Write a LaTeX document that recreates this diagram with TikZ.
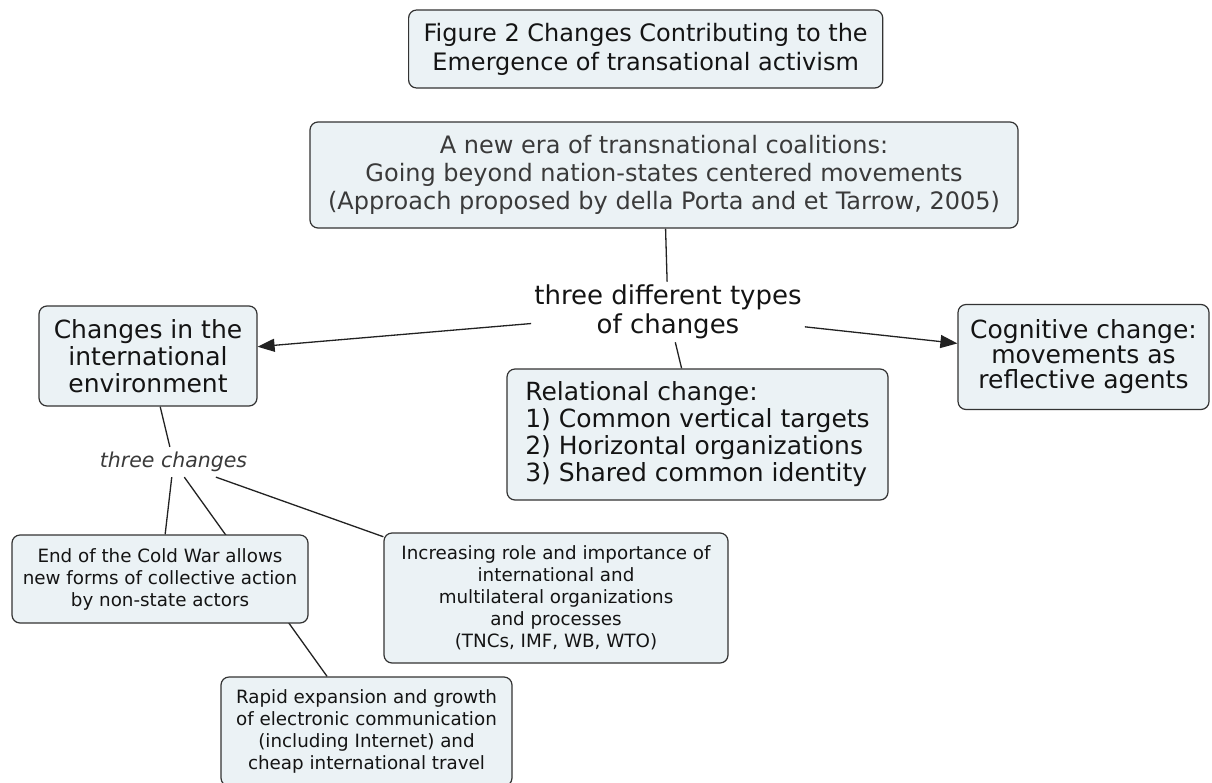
\documentclass[tikz,border=0pt]{standalone}
\usepackage{fontspec}
\setmainfont{DejaVu Sans}
\usetikzlibrary{arrows.meta,backgrounds}
\definecolor{boxfill}{HTML}{EBF2F5}
\definecolor{boxline}{HTML}{333333}
\definecolor{connline}{HTML}{222222}
\definecolor{txtdark}{HTML}{141414}
\definecolor{txtmid}{HTML}{3A3A3A}
\begin{document}
\begin{tikzpicture}[x=1pt,y=-1pt,
  conceptbox/.style={draw=boxline, fill=boxfill, rounded corners=8pt, line width=1.2pt,
    align=center, inner sep=0pt, text=txtdark},
  linkword/.style={align=center, text=txtdark},
  conn/.style={draw=connline, line width=1.3pt},
  arr/.style={conn, -{Triangle[length=17pt,width=13pt]}},
  bigfont/.style={font=\fontsize{25}{27}\selectfont},
  smallfont/.style={font=\fontsize{18.3}{22}\selectfont}]
\useasboundingbox (0,0) rectangle (1212,782);

\node[conceptbox, anchor=west, inner xsep=15pt, minimum height=78,
  font=\fontsize{24}{29}\selectfont] (title) at (408,49)
  {Figure 2 Changes Contributing to the\\Emergence of transational activism};

\node[conceptbox, minimum width=708, minimum height=106, text=txtmid,
  font=\fontsize{24}{28}\selectfont] (main) at (664,175)
  {A new era of transnational coalitions:\\Going beyond nation-states centered movements\\(Approach proposed by della Porta and et Tarrow, 2005)};

\node[linkword, inner xsep=3pt, inner ysep=3pt, font=\fontsize{26}{29}\selectfont] (types) at (668,312)
  {three different types\\of changes};

\node[conceptbox, bigfont, minimum width=218, minimum height=100] (intl) at (148,356)
  {Changes in the\\international\\environment};

\node[conceptbox, minimum width=251, minimum height=105,
  font=\fontsize{25}{25}\selectfont] (cog) at (1083.5,357)
  {Cognitive change:\\movements as\\reflective agents};

\node[conceptbox, bigfont, align=left, minimum width=381, minimum height=131] (rel) at (697.5,434.5)
  {Relational change:\\1) Common vertical targets\\2) Horizontal organizations\\3) Shared common identity};

\node[linkword, inner sep=5pt, text=txtmid, font=\fontsize{20.5}{24}\selectfont\itshape] (three) at (173.5,462)
  {three changes};

\node[conceptbox, smallfont, minimum width=296, minimum height=88] (cold) at (160,579)
  {End of the Cold War allows\\new forms of collective action\\by non-state actors};

\node[conceptbox, smallfont, minimum width=344, minimum height=130] (inc) at (556,598)
  {Increasing role and importance of\\international and\\multilateral organizations\\and processes\\(TNCs, IMF, WB, WTO)};

\node[conceptbox, smallfont, minimum width=291, minimum height=109] (rapid) at (366.5,731.5)
  {Rapid expansion and growth\\of electronic communication\\(including Internet) and\\cheap international travel};

\begin{scope}[on background layer]
  \fill[white] (0,0) rectangle (1212,782);
  \draw[conn] (main) -- (types);
  \draw[arr] (types) -- (intl);
  \draw[arr] (types) -- (cog);
  \draw[conn] (types) -- (rel);
  \draw[conn] (intl) -- (three);
  \draw[conn] (three) -- (cold);
  \draw[conn] (three) -- (rapid);
  \draw[conn] (three) -- (inc);
\end{scope}
\end{tikzpicture}
\end{document}
